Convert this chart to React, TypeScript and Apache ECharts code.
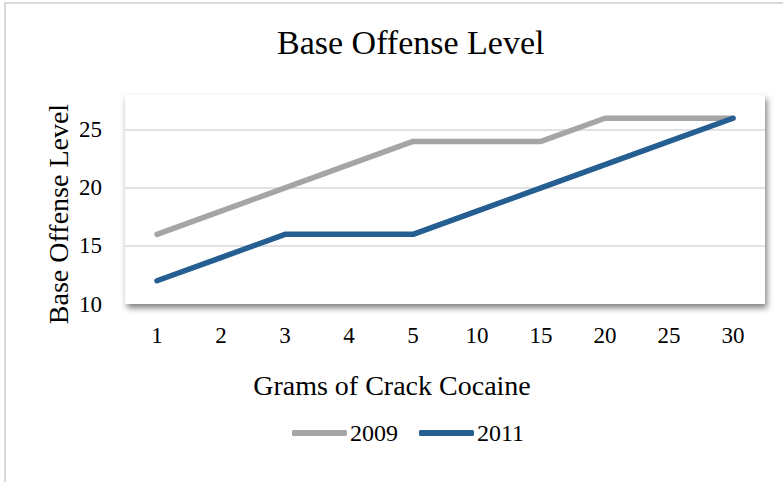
import React, { useEffect, useRef } from "react";
import * as echarts from "echarts";

const categories = ["1", "2", "3", "4", "5", "10", "15", "20", "25", "30"];
const series2009 = [16, 18, 20, 22, 24, 24, 24, 26, 26, 26];
const series2011 = [12, 14, 16, 16, 16, 18, 20, 22, 24, 26];
const gridValues = [15, 20, 25];
const yMin = 10;
const yMax = 28;
const yInterval = 5;

const FONT = "Liberation Serif";

export default function App() {
  const ref = useRef<HTMLDivElement>(null);
  useEffect(() => {
    if (!ref.current) return;
    const chart = echarts.init(ref.current, null, { renderer: "svg" });
    chart.setOption({
      animation: false,
      backgroundColor: "#ffffff",
      textStyle: { fontFamily: FONT, color: "#000" },
      title: {
        text: "Base Offense Level",
        left: 272,
        top: 20,
        textStyle: { fontFamily: FONT, fontSize: 34, fontWeight: "normal", color: "#000" },
      },
      grid: {
        left: 125,
        right: 18,
        top: 95,
        bottom: 178,
        show: true,
        backgroundColor: "#ffffff",
        borderWidth: 0,
        shadowColor: "rgba(0,0,0,0.5)",
        shadowBlur: 6,
        shadowOffsetX: 2,
        shadowOffsetY: 4,
      },
      legend: {
        left: 287,
        top: 416,
        icon: "roundRect",
        itemWidth: 55,
        itemHeight: 6,
        itemGap: 21,
        textStyle: { fontFamily: FONT, fontSize: 24, color: "#000", padding: [0, 0, 0, -2] },
        data: ["2009", "2011"],
      },
      xAxis: {
        type: "category",
        data: categories,
        boundaryGap: true,
        axisLine: { show: false },
        axisTick: { show: false },
        axisLabel: { fontFamily: FONT, fontSize: 23, color: "#000", margin: 20 },
      },
      yAxis: {
        type: "value",
        min: yMin,
        max: yMax,
        interval: yInterval,
        axisLine: { show: false },
        axisTick: { show: false },
        splitLine: { show: false },
        axisLabel: {
          fontFamily: FONT,
          fontSize: 23,
          color: "#000",
          margin: 23,
          formatter: (v: number) => (v % yInterval === 0 ? String(v) : ""),
        },
      },
      graphic: [
        {
          type: "rect",
          silent: true,
          shape: { x: 5, y: 3, width: 820, height: 520 },
          style: { fill: "none", stroke: "#d9d9d9", lineWidth: 2 },
          z: 100,
        },
        {
          type: "text",
          x: 58,
          y: 214,
          rotation: Math.PI / 2,
          style: {
            text: "Base Offense Level",
            fontFamily: FONT,
            fontSize: 28,
            fill: "#000",
            align: "center",
            verticalAlign: "middle",
          },
        },
        {
          type: "text",
          x: 392,
          y: 385,
          style: {
            text: "Grams of Crack Cocaine",
            fontFamily: FONT,
            fontSize: 28,
            fill: "#000",
            align: "center",
            verticalAlign: "middle",
          },
        },
      ],
      series: [
        {
          name: "2009",
          type: "line",
          data: series2009,
          symbol: "none",
          color: "#A5A5A5",
          lineStyle: { width: 5.5, color: "#A5A5A5", cap: "round", join: "round" },
          z: 3,
          markLine: {
            silent: true,
            symbol: "none",
            label: { show: false },
            lineStyle: { color: "#d9d9d9", width: 1.5, type: "solid" },
            data: gridValues.map((v) => ({ yAxis: v })),
            z: 1,
          },
        },
        {
          name: "2011",
          type: "line",
          data: series2011,
          symbol: "none",
          color: "#255E91",
          lineStyle: { width: 5.5, color: "#255E91", cap: "round", join: "round" },
          z: 4,
        },
      ],
    });
    return () => chart.dispose();
  }, []);
  return (
    <div
      ref={ref}
      style={{ position: "absolute", left: 0, top: 0, width: 783, height: 482 }}
    />
  );
}
